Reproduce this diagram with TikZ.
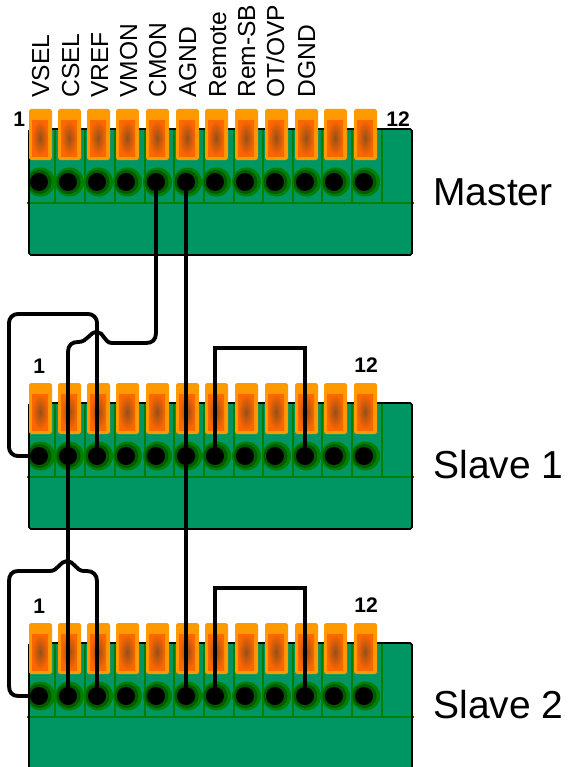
\documentclass[tikz,border=0pt]{standalone}
\usepackage{fontspec}
\setmainfont{Liberation Sans}
\definecolor{bodygreen}{RGB}{0,150,100}
\definecolor{linegreen}{RGB}{0,128,0}
\definecolor{ringgreen}{RGB}{0,90,0}
\definecolor{leverorange}{RGB}{255,153,0}
\definecolor{coreorange}{RGB}{255,102,0}
\definecolor{spotbrown}{RGB}{150,80,25}
\tikzset{
  hole/.style={circle,fill=black,inner sep=0pt,minimum size=0.36cm},
  wire/.style={line width=2.2pt,black},
  jumper/.style={line width=1.8pt,black},
  signal/.style={rotate=90,anchor=base west,inner sep=0pt,font=\fontsize{14}{14}\selectfont},
  blockname/.style={anchor=base west,inner sep=0pt,font=\fontsize{22.2}{22.2}\selectfont},
  pinno/.style={anchor=base west,inner sep=0pt,font=\fontsize{12}{12}\selectfont\bfseries}
}
\newcommand{\terminalblock}[2]{
  \begin{scope}[yshift=#2*-0.02cm]
    \fill[bodygreen] (29,129) rectangle (412,255);
    \foreach \x in {55,85,115,145,174,204,234,263,293,322,352,382}
      \draw[linegreen,line width=1pt] (\x,129)--(\x,203);
    \begin{scope}
      \clip (29,129) rectangle (412,255);
      \foreach \x in {39,68,97,126,156,186,215,245,275,305,334,364}{
        \fill[linegreen] (\x+1.5,182) circle (14.5);
        \fill[ringgreen] (\x+0.5,182) circle (12);
      }
    \end{scope}
    \draw[linegreen,line width=1.2pt] (27,203)--(414,203);
    \draw[black,line width=1pt,rounded corners=1pt] (29,255)--(412,255)--(412,129)--(29,129)--cycle;
    \foreach \i/\x in {1/39,2/68,3/97,4/126,5/156,6/186,7/215,8/245,9/275,10/305,11/334,12/364}{
      \fill[leverorange,rounded corners=1pt] (\x-10,109) rectangle (\x+13,160);
      \shade[inner color=spotbrown,outer color=coreorange] (\x-7,120) rectangle (\x+9,156);
      \node[hole] (#1h\i) at (\x,182) {};
    }
  \end{scope}
}
\begin{document}
\begin{tikzpicture}[x=0.02cm,y=-0.02cm]
    \useasboundingbox (0,0) rectangle (568,767);
    \clip (0,0) rectangle (568,767);
    \terminalblock{m}{0}
    \terminalblock{sa}{274}
    \terminalblock{sb}{514}
    \foreach \i/\x/\t in {1/49/VSEL,2/79/CSEL,3/108/VREF,4/137/VMON,5/166/CMON,6/196/AGND,7/226/Remote,8/255/Rem-SB,9/284/{OT/OVP},10/315/DGND}
      \node[signal] (sig\i) at (\x,98) {\t};
    \node[pinno] (mone) at (13,127) {1};
    \node[pinno] (mtwelve) at (386,127) {12};
    \node[pinno] (saone) at (33,373) {1};
    \node[pinno] (satwelve) at (354,372) {12};
    \node[pinno] (sbone) at (33,613) {1};
    \node[pinno] (sbtwelve) at (354,612) {12};
    \node[blockname] (master) at (433,205) {Master};
    \node[blockname] (slavea) at (433,478) {Slave 1};
    \node[blockname] (slaveb) at (433,718) {Slave 2};
    \draw[wire] (mh5.center)--(156,333) .. controls (156,340) and (152,343) .. (146,343)--(112,343) .. controls (104,343) and (104,332) .. (97,332) .. controls (89,332) and (88,342) .. (78,342) .. controls (72,342) and (68,345) .. (68,352)--(sbh2.center);
    \draw[wire] (mh6.center)--(sbh6.center);
    \draw[wire,rounded corners=5pt] (sah1.center)--(9,456)--(9,314)--(97,314)--(sah3.center);
    \draw[wire] (sbh1.center)--(18,696) .. controls (12,696) and (9,692) .. (9,686)--(9,581) .. controls (9,575) and (12,571) .. (18,571)--(50,571) .. controls (58,571) and (60,561) .. (67,561) .. controls (74,561) and (76,571) .. (84,571)--(87,571) .. controls (93,571) and (97,575) .. (97,581)--(sbh3.center);
    \draw[jumper] (sah7.center)--(215,348)--(305,348)--(sah10.center);
    \draw[jumper] (sbh7.center)--(215,588)--(305,588)--(sbh10.center);
\end{tikzpicture}
\end{document}
